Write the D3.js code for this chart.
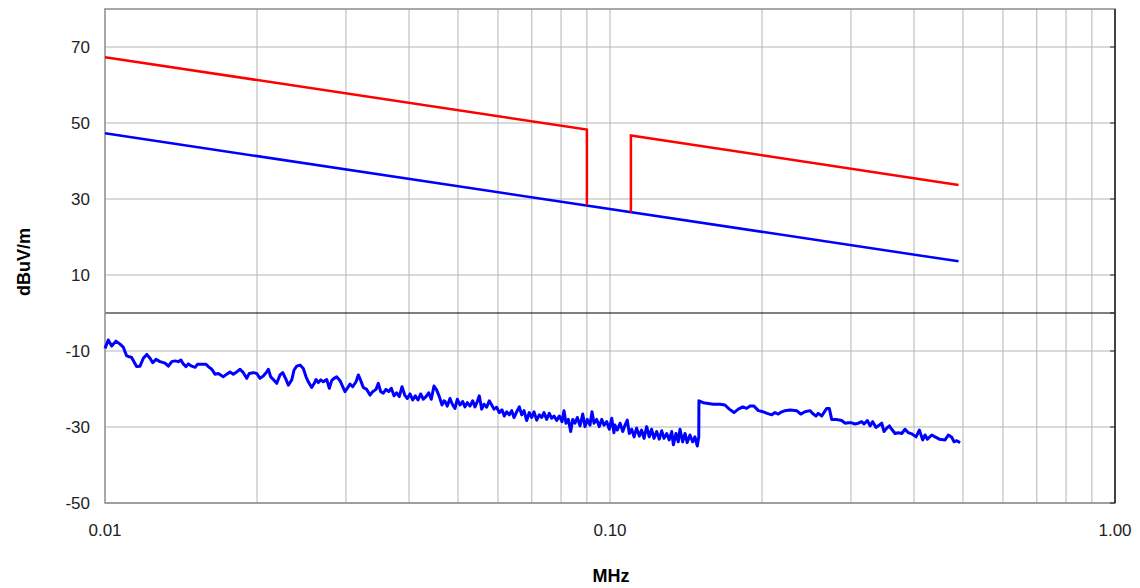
<!DOCTYPE html>
<html>
<head>
<meta charset="utf-8">
<script src="https://cdn.jsdelivr.net/npm/d3@7"></script>
<style>
  body { margin: 0; background: #fff; }
  svg { display: block; font-family: "Liberation Sans", Arial, sans-serif; }
  .tick-label { font-size: 17px; fill: #222; }
  .axis-title { font-size: 18px; font-weight: bold; fill: #000; }
</style>
</head>
<body>
<div id="chart"></div>
<script>
// axis ticks
var xTicks = [0.01, 0.1, 1];
var xTickLabels = ["0.01", "0.10", "1.00"];
var xGrid = [0.02, 0.03, 0.04, 0.05, 0.06, 0.07, 0.08, 0.09, 0.1, 0.2, 0.3, 0.4, 0.5, 0.6, 0.7, 0.8, 0.9];
var yTicks = [70, 50, 30, 10, -10, -30, -50];

// limit lines [MHz, dBuV/m]
var limitRedA = [[0.01, 67.3], [0.09, 48.3], [0.09, 28.4]];
var limitRedB = [[0.11, 26.5], [0.11, 46.7], [0.49, 33.7]];
var limitBlue = [[0.01, 47.3], [0.49, 13.6]];

// measured scan [MHz, dBuV/m]
var scan = [
  [0.01000, -9.3], [0.01015, -7.1], [0.01031, -8.7], [0.01051, -7.4], [0.01071, -8.2], [0.01087, -9.0],
  [0.01104, -11.3], [0.01129, -11.7], [0.01155, -14.1], [0.01173, -14.0], [0.01191, -11.9], [0.01210, -10.9],
  [0.01228, -11.9], [0.01243, -13.1], [0.01262, -12.2], [0.01285, -12.8], [0.01315, -13.2], [0.01335, -14.0],
  [0.01356, -12.8], [0.01376, -12.6], [0.01397, -12.8], [0.01414, -12.4], [0.01429, -13.4], [0.01447, -14.1],
  [0.01462, -13.4], [0.01485, -14.0], [0.01508, -14.3], [0.01524, -13.5], [0.01554, -13.5], [0.01585, -13.5],
  [0.01602, -14.1], [0.01627, -14.8], [0.01651, -16.1], [0.01676, -15.9], [0.01715, -16.8], [0.01742, -16.1],
  [0.01768, -15.5], [0.01795, -16.1], [0.01823, -15.5], [0.01851, -14.8], [0.01879, -15.7], [0.01908, -17.2],
  [0.01931, -15.9], [0.01967, -15.7], [0.01997, -15.9], [0.02028, -17.2], [0.02058, -16.6], [0.02091, -15.5],
  [0.02106, -14.8], [0.02129, -16.8], [0.02154, -17.5], [0.02188, -18.5], [0.02221, -16.3], [0.02249, -15.7],
  [0.02283, -17.5], [0.02307, -19.0], [0.02343, -17.6], [0.02368, -15.0], [0.02397, -14.0], [0.02433, -13.7],
  [0.02470, -14.6], [0.02501, -16.8], [0.02527, -18.1], [0.02566, -19.6], [0.02597, -18.5], [0.02617, -17.5],
  [0.02645, -18.3], [0.02674, -17.6], [0.02706, -18.1], [0.02748, -17.5], [0.02781, -19.8], [0.02811, -17.8],
  [0.02841, -17.2], [0.02876, -16.8], [0.02920, -17.8], [0.02956, -19.4], [0.02987, -20.7], [0.03019, -19.8],
  [0.03056, -18.7], [0.03094, -19.4], [0.03141, -18.1], [0.03174, -16.3], [0.03209, -17.8], [0.03247, -19.6],
  [0.03298, -20.1], [0.03348, -21.6], [0.03389, -20.7], [0.03441, -20.1], [0.03477, -18.5], [0.03515, -20.7],
  [0.03557, -21.1], [0.03601, -20.1], [0.03646, -20.7], [0.03689, -19.8], [0.03735, -21.8], [0.03781, -21.0],
  [0.03826, -22.0], [0.03874, -19.4], [0.03922, -21.6], [0.03969, -22.5], [0.04018, -21.3], [0.04067, -22.9],
  [0.04116, -21.8], [0.04167, -22.9], [0.04218, -21.3], [0.04269, -22.7], [0.04322, -22.0], [0.04375, -21.0],
  [0.04427, -22.7], [0.04482, -19.2], [0.04538, -20.3], [0.04592, -22.0], [0.04649, -24.2], [0.04691, -23.1],
  [0.04713, -23.3], [0.04762, -24.5], [0.04821, -22.5], [0.04881, -24.2], [0.04932, -25.1], [0.04984, -22.7],
  [0.05046, -24.2], [0.05109, -23.3], [0.05162, -24.7], [0.05217, -23.6], [0.05281, -24.5], [0.05347, -23.1],
  [0.05403, -24.7], [0.05460, -23.3], [0.05510, -21.8], [0.05571, -25.3], [0.05630, -24.0], [0.05699, -24.8],
  [0.05767, -23.1], [0.05831, -24.2], [0.05892, -25.3], [0.05965, -24.8], [0.06036, -26.2], [0.06111, -25.5],
  [0.06175, -27.1], [0.06243, -26.0], [0.06318, -26.8], [0.06388, -25.7], [0.06455, -27.5], [0.06535, -26.0],
  [0.06613, -24.7], [0.06686, -26.8], [0.06756, -25.7], [0.06840, -28.3], [0.06921, -26.2], [0.06998, -27.5],
  [0.07071, -26.0], [0.07159, -28.2], [0.07244, -26.8], [0.07324, -27.5], [0.07401, -26.2], [0.07493, -28.0],
  [0.07582, -26.4], [0.07666, -27.7], [0.07747, -27.1], [0.07843, -28.3], [0.07936, -27.1], [0.08035, -28.6],
  [0.08108, -25.7], [0.08182, -29.0], [0.08269, -28.0], [0.08360, -31.2], [0.08436, -28.0], [0.08525, -29.0],
  [0.08615, -27.5], [0.08722, -29.7], [0.08830, -26.6], [0.08923, -29.9], [0.09017, -28.0], [0.09129, -29.5],
  [0.09212, -26.0], [0.09297, -29.0], [0.09412, -28.0], [0.09524, -29.9], [0.09629, -28.0], [0.09731, -29.5],
  [0.09851, -28.6], [0.09968, -30.6], [0.1008, -27.7], [0.1018, -31.5], [0.1023, -29.5], [0.1034, -30.8],
  [0.1047, -29.0], [0.1060, -31.2], [0.1071, -29.5], [0.1082, -28.2], [0.1092, -31.7], [0.1104, -30.6],
  [0.1116, -32.6], [0.1129, -30.3], [0.1143, -32.4], [0.1155, -30.8], [0.1168, -33.0], [0.1182, -29.9],
  [0.1196, -32.6], [0.1209, -30.6], [0.1222, -33.0], [0.1237, -31.2], [0.1252, -33.2], [0.1266, -31.0],
  [0.1279, -33.0], [0.1295, -31.7], [0.1310, -33.4], [0.1325, -31.2], [0.1335, -34.7], [0.1351, -31.7],
  [0.1365, -33.9], [0.1376, -30.6], [0.1393, -33.9], [0.1408, -31.7], [0.1422, -34.1], [0.1440, -32.1],
  [0.1458, -33.9], [0.1473, -32.6], [0.1489, -35.0], [0.1499, -32.6], [0.1500, -23.1], [0.1530, -23.6],
  [0.1565, -23.8], [0.1601, -24.0], [0.1651, -24.0], [0.1689, -24.2], [0.1723, -25.3], [0.1760, -26.2],
  [0.1795, -25.3], [0.1832, -24.7], [0.1865, -25.1], [0.1894, -24.5], [0.1928, -24.5], [0.1967, -25.7],
  [0.2011, -26.0], [0.2048, -26.4], [0.2091, -26.8], [0.2122, -26.2], [0.2154, -26.6], [0.2188, -26.0],
  [0.2221, -25.7], [0.2273, -25.5], [0.2343, -25.7], [0.2386, -26.6], [0.2433, -26.0], [0.2489, -25.7],
  [0.2527, -26.6], [0.2558, -27.1], [0.2585, -26.4], [0.2626, -27.1], [0.2686, -25.1], [0.2718, -25.1],
  [0.2748, -28.0], [0.2803, -28.0], [0.2876, -28.3], [0.2920, -29.0], [0.2964, -28.9], [0.3011, -28.9],
  [0.3056, -29.2], [0.3103, -29.0], [0.3151, -28.6], [0.3184, -29.2], [0.3233, -28.3], [0.3273, -29.7],
  [0.3313, -28.6], [0.3363, -30.1], [0.3399, -29.7], [0.3452, -29.0], [0.3488, -31.2], [0.3532, -30.3],
  [0.3574, -29.7], [0.3613, -30.6], [0.3668, -31.7], [0.3723, -31.5], [0.3782, -31.7], [0.3839, -30.6],
  [0.3897, -31.5], [0.3958, -31.8], [0.4037, -32.6], [0.4098, -30.8], [0.4162, -33.4], [0.4206, -32.1],
  [0.4251, -33.2], [0.4337, -32.1], [0.4402, -32.6], [0.4490, -33.2], [0.4608, -33.4], [0.4678, -32.1],
  [0.4751, -32.7], [0.4801, -33.9], [0.4860, -33.6], [0.4934, -34.1]
];

var margin = { top: 9, right: 25, bottom: 85, left: 105 },
    width = 1010,
    height = 494;

var svg = d3.select("#chart")
    .append("svg")
    .attr("width", 1140)
    .attr("height", 588)
    .append("g")
    .attr("transform", "translate(" + margin.left + "," + margin.top + ")");

var x = d3.scaleLog().domain([0.01, 1]).range([0, width]);
var y = d3.scaleLinear().domain([-50, 80]).range([height, 0]);

// grid
svg.selectAll(".vgrid")
    .data(xGrid)
    .enter().append("line")
    .attr("x1", function (d) { return x(d); })
    .attr("x2", function (d) { return x(d); })
    .attr("y1", 0)
    .attr("y2", height)
    .attr("stroke", "#b4b4b4")
    .attr("stroke-width", 1);

svg.selectAll(".hgrid")
    .data(yTicks)
    .enter().append("line")
    .attr("x1", 0)
    .attr("x2", width)
    .attr("y1", function (d) { return y(d); })
    .attr("y2", function (d) { return y(d); })
    .attr("stroke", "#b4b4b4")
    .attr("stroke-width", 1);

// zero line
svg.append("line")
    .attr("x1", 0).attr("x2", width)
    .attr("y1", y(0)).attr("y2", y(0))
    .attr("stroke", "#000").attr("stroke-width", 1);

// frame
svg.append("rect")
    .attr("x", 0).attr("y", 0)
    .attr("width", width).attr("height", height)
    .attr("fill", "none")
    .attr("stroke", "#8c8c8c")
    .attr("stroke-width", 1.5);

svg.append("line")
    .attr("x1", width).attr("x2", width)
    .attr("y1", 0).attr("y2", height)
    .attr("stroke", "#222").attr("stroke-width", 1.5);

// right inner ticks
svg.selectAll(".rtick")
    .data(yTicks.concat([0]))
    .enter().append("line")
    .attr("x1", width - 5).attr("x2", width)
    .attr("y1", function (d) { return y(d); })
    .attr("y2", function (d) { return y(d); })
    .attr("stroke", "#222").attr("stroke-width", 1);

// tick labels
svg.selectAll(".ylab")
    .data(yTicks)
    .enter().append("text")
    .attr("class", "tick-label")
    .attr("x", -15)
    .attr("y", function (d) { return y(d); })
    .attr("dy", "0.36em")
    .attr("text-anchor", "end")
    .text(function (d) { return d; });

svg.selectAll(".xlab")
    .data(xTicks)
    .enter().append("text")
    .attr("class", "tick-label")
    .attr("x", function (d) { return x(d); })
    .attr("y", height + 33)
    .attr("text-anchor", "middle")
    .text(function (d, i) { return xTickLabels[i]; });

// axis titles
svg.append("text")
    .attr("class", "axis-title")
    .attr("transform", "translate(-75," + (height / 2 + 6) + ")rotate(-90)")
    .attr("text-anchor", "middle")
    .text("dBuV/m");

svg.append("text")
    .attr("class", "axis-title")
    .attr("x", x(0.1) + 1)
    .attr("y", height + 79)
    .attr("text-anchor", "middle")
    .text("MHz");

// lines
var line = d3.line()
    .x(function (d) { return x(d[0]); })
    .y(function (d) { return y(d[1]); });

svg.append("path")
    .datum(limitBlue)
    .attr("d", line)
    .attr("fill", "none")
    .attr("stroke", "#0000ff")
    .attr("stroke-width", 2.5);

[limitRedA, limitRedB].forEach(function (seg) {
    svg.append("path")
        .datum(seg)
        .attr("d", line)
        .attr("fill", "none")
        .attr("stroke", "#ff0000")
        .attr("stroke-width", 2.5);
});

svg.append("path")
    .datum(scan)
    .attr("d", line)
    .attr("fill", "none")
    .attr("stroke", "#0000ff")
    .attr("stroke-width", 3)
    .attr("stroke-linejoin", "round");
</script>
</body>
</html>
